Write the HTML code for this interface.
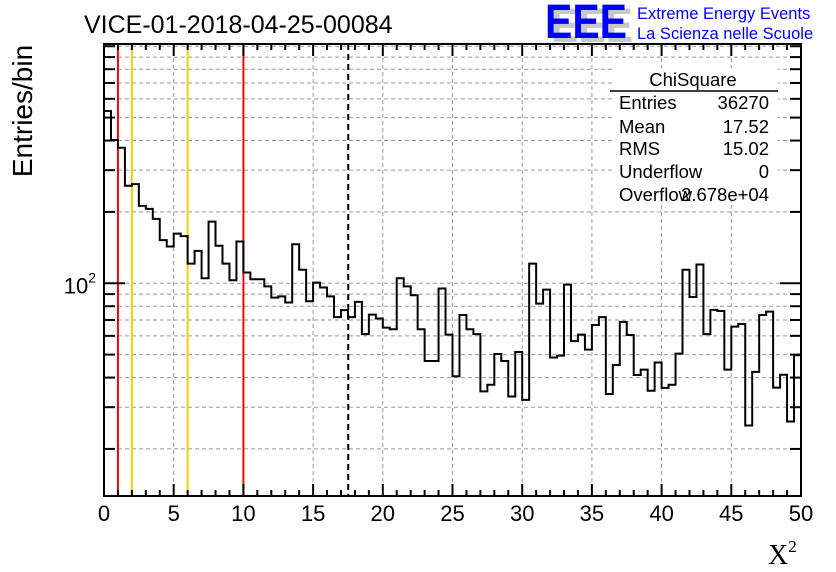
<!DOCTYPE html>
<html><head><meta charset="utf-8"><style>
html,body{margin:0;padding:0;background:#fff;}
svg{display:block;font-family:"Liberation Sans",sans-serif;}
</style></head><body>
<svg id="c" width="836" height="572" viewBox="0 0 836 572">
<rect x="0" y="0" width="836" height="572" fill="#fff"/>
<g id="grid"></g>
<g id="vlines"></g>
<path id="hist" fill="none" stroke="#000" stroke-width="2"/>
<g id="stats">
<rect x="612" y="68" width="166" height="132" fill="#fff"/>
<text x="693" y="86" font-size="18.5" text-anchor="middle">ChiSquare</text>
<line x1="610" y1="91" x2="778" y2="91" stroke="#000" stroke-width="1.5"/>
<text x="619" y="109" font-size="18.5">Entries</text>
<text x="769" y="109" font-size="18.5" text-anchor="end">36270</text>
<text x="619" y="133" font-size="18.5">Mean</text>
<text x="769" y="133" font-size="18.5" text-anchor="end">17.52</text>
<text x="619" y="155" font-size="18.5">RMS</text>
<text x="769" y="155" font-size="18.5" text-anchor="end">15.02</text>
<text x="619" y="178" font-size="18.5">Underflow</text>
<text x="769" y="178" font-size="18.5" text-anchor="end">0</text>
<text x="619" y="201" font-size="18.5">Overflow</text>
<text x="769" y="201" font-size="18.5" text-anchor="end">2.678e+04</text>
</g>
<g id="axes"></g>
<rect x="104" y="44" width="697" height="452" fill="none" stroke="#000" stroke-width="2"/>
<text x="84" y="33" font-size="25">VICE-01-2018-04-25-00084</text>
<g>
<text x="551" y="42" font-size="48" font-weight="bold" fill="#c8c8c8" textLength="82" lengthAdjust="spacingAndGlyphs">EEE</text>
<text x="545" y="38" font-size="48" font-weight="bold" fill="#0000ff" textLength="82" lengthAdjust="spacingAndGlyphs">EEE</text>
<text x="637" y="19" font-size="16.5" fill="#0000ff">Extreme Energy Events</text>
<text x="637" y="39" font-size="16.5" fill="#0000ff">La Scienza nelle Scuole</text>
</g>
<text transform="translate(32,111) rotate(-90)" font-size="28" text-anchor="middle">Entries/bin</text>
<text x="768" y="564" font-size="28" font-family="Liberation Serif,serif">X<tspan font-size="17" dy="-12">2</tspan></text>
</svg>
<script>
const binEdges = [0, 50];
const binWidth = 0.5;
const counts = [533,402,373,258,262,212,206,187,152,143,162,158,121,137,105,182,144,121,103,150,
111,104,104,97,87,88,83,146,114,84,100.6,96,88,72,77,72,83.5,61,73.7,71,
65,64,105,97,89,64,47,47,95,60.7,40.5,73.5,64,61,35,37.3,50.3,47,33.3,51.3,
32.2,121,82,94,48.6,49.5,98.7,57,60.7,52.5,66.7,72,34.1,45.2,68.7,60.5,41,43.2,35.2,46.3,
36.2,37.3,50.5,114,87.5,120,61,77.2,76.4,43.2,65.6,67.3,25.1,42.3,73.5,75.9,36.3,41.1,26.1,49.7];
const xTicks = [0,5,10,15,20,25,30,35,40,45,50];
const yGridValues = [20,30,40,50,60,70,80,90,100,200,300,400,500,600,700,800,900,1000];
const markerRed = [1,10];
const markerOrange = [2,6];
const meanValue = 17.52;

const NS="http://www.w3.org/2000/svg";
const X0=104,X1=801,Y0=496,Y1=44;
const yMin=12.66,yMax=1022;
function sx(v){return X0+(v-binEdges[0])/(binEdges[1]-binEdges[0])*(X1-X0);}
function sy(v){return Y0-(Math.log10(v)-Math.log10(yMin))/(Math.log10(yMax)-Math.log10(yMin))*(Y0-Y1);}
function mk(tag,attrs,parent){const e=document.createElementNS(NS,tag);for(const k in attrs)e.setAttribute(k,attrs[k]);parent.appendChild(e);return e;}

const grid=document.getElementById('grid');
xTicks.forEach(t=>{if(t===binEdges[0]||t===binEdges[1])return;
 const l=mk('line',{x1:sx(t),x2:sx(t),y1:Y1,y2:Y0,stroke:'#999','stroke-dasharray':'4,3','stroke-width':1},grid);
 
 });
yGridValues.forEach(v=>{const l=mk('line',{x1:X0,x2:X1,y1:sy(v),y2:sy(v),stroke:'#999','stroke-dasharray':'4,3','stroke-width':1},grid);
 
 });

const vl=document.getElementById('vlines');
markerRed.forEach(v=>{const l=mk('line',{x1:sx(v),x2:sx(v),y1:Y1,y2:Y0,stroke:'#ff0000','stroke-width':2},vl);
 
 });
markerOrange.forEach(v=>{const l=mk('line',{x1:sx(v),x2:sx(v),y1:Y1,y2:Y0,stroke:'#ffcc00','stroke-width':2},vl);
 
 });
const ml=mk('line',{x1:sx(meanValue),x2:sx(meanValue),y1:Y1,y2:Y0,stroke:'#000','stroke-width':2,'stroke-dasharray':'6,4'},vl);



let d='M'+sx(0)+','+sy(counts[0]);
counts.forEach((c,i)=>{const a=binEdges[0]+i*binWidth;
 d+=(i?'L'+sx(a)+','+sy(c):'')+'L'+sx(a+binWidth)+','+sy(c);});
document.getElementById('hist').setAttribute('d',d);

const ax=document.getElementById('axes');
for(let v=0;v<=50;v+=1){const major=v%5===0;const len=major?12:6;
 mk('line',{x1:sx(v),x2:sx(v),y1:Y0,y2:Y0-len,stroke:'#000','stroke-width':2},ax);
 mk('line',{x1:sx(v),x2:sx(v),y1:Y1,y2:Y1+len,stroke:'#000','stroke-width':2},ax);}
xTicks.forEach(t=>{const tx=mk('text',{x:sx(t),y:521,'font-size':22,'text-anchor':'middle'},ax);tx.textContent=t;
 
 });
yGridValues.forEach(v=>{const len=v===100?21:11;
 mk('line',{x1:X0,x2:X0+len,y1:sy(v),y2:sy(v),stroke:'#000','stroke-width':2},ax);
 mk('line',{x1:X1,x2:X1-len,y1:sy(v),y2:sy(v),stroke:'#000','stroke-width':2},ax);});
const yl=mk('text',{x:96,y:sy(100)+10,'font-size':22,'text-anchor':'end'},ax);
yl.innerHTML='10<tspan font-size="14" dy="-11">2</tspan>';


</script>
</body></html>
